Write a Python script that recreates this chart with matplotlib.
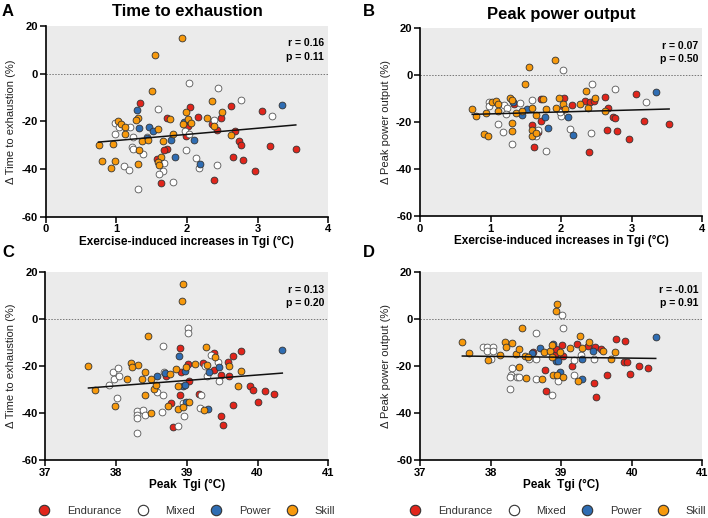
import numpy as np
import matplotlib
matplotlib.use("Agg")
import matplotlib.pyplot as plt
from matplotlib.lines import Line2D

plt.rcParams['font.family'] = ['Liberation Sans', 'DejaVu Sans']
plt.rcParams['axes.unicode_minus'] = False

groups = ["Endurance", "Mixed", "Power", "Skill"]
colors = {"Endurance": "#E1251B", "Mixed": "#FFFFFF", "Power": "#2F6DB3", "Skill": "#F7990C"}

# ---------------- Panel A: delta TTE vs exercise-induced increase in Tgi
A_end_x = [1.34, 2.04, 2.62, 3.06, 1.72, 2.16, 2.48, 2.35, 2.01, 2.42, 2.68, 1.99, 2.73, 2.76, 3.18, 3.54,
           1.72, 1.67, 1.58, 2.65, 2.79, 2.96, 1.63, 2.39]
A_end_y = [-12.1, -14.1, -13.4, -15.7, -18.4, -18.1, -18.6, -21.3, -21.9, -23.7, -23.9, -26.3, -28.4, -29.9,
           -30.5, -31.6, -31.6, -32.0, -35.6, -35.0, -36.4, -40.9, -45.7, -44.6]
A_mix_x = [2.03, 2.44, 2.76, 1.59, 3.20, 2.39, 0.99, 1.04, 1.20, 0.99, 1.24, 1.43, 1.97, 2.03, 1.22, 1.24,
           1.38, 1.99, 2.13, 2.17, 1.11, 1.18, 1.68, 1.66, 1.61, 2.43, 1.80, 1.31]
A_mix_y = [-3.8, -5.9, -11.2, -15.0, -17.9, -19.3, -20.8, -22.3, -22.3, -25.4, -26.5, -26.4, -24.0, -25.4,
           -30.8, -31.8, -33.5, -31.9, -35.3, -39.4, -38.8, -40.4, -37.6, -40.9, -41.9, -38.4, -45.5, -48.4]
A_pow_x = [1.30, 3.34, 1.32, 1.46, 1.52, 1.44, 1.78, 1.96, 2.10, 1.83, 2.18]
A_pow_y = [-15.2, -13.1, -22.7, -22.4, -24.1, -27.1, -28.0, -20.2, -27.7, -34.9, -38.0]
A_skl_x = [1.93, 1.55, 1.50, 2.36, 1.31, 1.28, 1.03, 1.07, 1.13, 1.12, 0.75, 0.95, 1.36, 1.45, 1.59, 1.66,
           1.80, 1.76, 1.99, 2.02, 2.06, 1.94, 2.28, 2.50, 2.39, 2.63, 1.32, 0.80, 0.99, 0.92, 1.31, 1.64,
           1.59, 1.61]
A_skl_y = [14.8, 7.8, -7.1, -11.6, -18.6, -19.5, -19.9, -21.2, -22.3, -25.4, -29.8, -29.5, -28.2, -28.0,
           -23.3, -28.1, -25.4, -19.1, -16.0, -19.1, -20.5, -21.3, -18.8, -16.2, -21.9, -25.6, -32.2, -36.7,
           -36.7, -39.7, -37.7, -35.0, -37.0, -38.4]

# ---------------- Panel B: delta PPO vs exercise-induced increase in Tgi
B_end_x = [3.06, 2.62, 2.04, 2.15, 2.34, 2.41, 2.47, 2.67, 2.74, 2.76, 3.17, 3.53, 2.79, 2.65, 2.96, 2.39,
           1.62, 1.58, 1.72, 1.67, 1.72, 1.33, 2.01]
B_end_y = [-8.2, -9.2, -9.9, -12.6, -11.1, -11.5, -10.8, -14.1, -18.0, -18.2, -19.6, -20.7, -23.7, -23.3,
           -27.1, -32.8, -30.5, -21.4, -19.6, -24.0, -10.1, -12.1, -14.9]
B_mix_x = [2.02, 2.44, 2.76, 3.20, 0.98, 0.98, 1.19, 1.23, 1.22, 1.42, 1.58, 1.10, 1.17, 1.30, 1.67, 1.65,
           1.79, 2.00, 1.98, 2.13, 2.42]
B_mix_y = [2.1, -3.7, -5.8, -11.4, -11.4, -13.2, -12.9, -14.1, -16.6, -11.8, -10.7, -20.7, -24.1, -29.4,
           -23.3, -25.7, -32.1, -17.3, -15.6, -23.0, -24.7]
B_pow_x = [3.34, 1.32, 1.51, 1.45, 1.77, 1.82, 2.10, 2.17]
B_pow_y = [-7.2, -11.6, -14.2, -17.0, -17.9, -22.3, -17.6, -25.3]
B_skl_x = [1.91, 1.54, 1.49, 2.35, 0.74, 0.79, 1.02, 1.07, 1.11, 1.11, 0.94, 1.28, 1.30, 1.36, 1.44, 1.31,
           1.30, 0.91, 0.97, 1.58, 1.74, 1.79, 1.65, 1.58, 1.59, 1.64, 1.97, 1.93, 2.02, 2.05, 2.27, 2.38,
           2.48, 2.62]
B_skl_y = [6.7, 3.6, -3.7, -6.8, -14.3, -17.3, -11.4, -10.9, -12.4, -15.2, -16.1, -9.7, -10.4, -16.1, -15.2,
           -20.3, -23.6, -25.0, -25.7, -14.1, -10.1, -14.6, -16.9, -23.4, -25.9, -24.6, -9.7, -13.8, -12.4,
           -14.2, -12.4, -13.8, -9.5, -15.2]

# ---------------- Panel C: delta TTE vs peak Tgi
C_end_x = [38.90, 39.38, 39.77, 39.65, 39.58, 39.23, 39.02, 39.39, 39.48, 39.60, 38.71, 38.92, 39.03, 38.90,
           39.17, 39.89, 39.94, 40.11, 40.23, 40.00, 39.66, 38.78, 39.48, 39.51, 38.80]
C_end_y = [-12.2, -14.2, -13.4, -15.6, -18.1, -18.5, -18.9, -21.6, -23.9, -24.2, -24.0, -22.5, -26.3, -32.3,
           -31.9, -28.4, -30.0, -30.6, -31.7, -35.1, -36.7, -35.8, -41.3, -44.9, -45.9]
C_mix_x = [39.01, 39.02, 38.66, 39.34, 39.26, 39.44, 37.95, 38.03, 37.97, 38.04, 37.90, 38.68, 39.28, 39.46,
           38.02, 38.58, 38.66, 39.20, 39.18, 38.94, 38.30, 38.38, 38.30, 38.30, 38.41, 38.65, 38.96, 38.88,
           38.30]
C_mix_y = [-3.8, -6.0, -11.4, -15.2, -19.9, -18.2, -22.5, -20.9, -25.5, -24.2, -28.2, -22.5, -24.2, -26.2,
           -33.6, -31.0, -32.4, -32.3, -37.8, -35.8, -39.0, -38.7, -40.7, -42.1, -40.7, -39.5, -41.1, -45.7,
           -48.6]
C_pow_x = [40.35, 38.89, 38.69, 38.58, 38.98, 39.45, 39.31, 38.94, 38.97, 39.30, 38.99]
C_pow_y = [-13.2, -15.5, -22.9, -24.3, -22.2, -20.5, -22.6, -28.3, -27.9, -38.1, -35.4]
C_skl_x = [38.95, 38.93, 38.45, 39.27, 37.61, 37.70, 38.21, 38.31, 38.23, 38.41, 38.15, 38.36, 38.49, 38.53,
           38.56, 38.41, 37.98, 38.50, 38.76, 38.85, 38.87, 38.99, 39.12, 39.29, 39.40, 39.59, 39.77, 39.72,
           38.74, 38.88, 38.95, 39.03, 39.24]
C_skl_y = [15.1, 7.8, -7.1, -11.8, -19.8, -30.0, -18.5, -19.3, -20.2, -22.5, -25.6, -25.6, -25.5, -29.6,
           -28.0, -32.4, -36.8, -40.0, -23.5, -21.3, -28.4, -20.5, -18.9, -19.3, -16.2, -19.8, -22.0, -28.3,
           -37.0, -38.1, -37.4, -35.4, -38.8]

# ---------------- Panel D: delta PPO vs peak Tgi
D_end_x = [38.77, 38.79, 38.91, 38.92, 39.01, 39.03, 39.15, 39.22, 39.38, 39.48, 39.57, 39.78, 39.90, 39.47,
           39.50, 39.65, 39.89, 39.94, 40.10, 39.98, 40.23, 38.60]
D_end_y = [-21.6, -30.5, -15.0, -12.8, -10.8, -15.6, -19.7, -10.5, -11.3, -11.6, -12.8, -8.4, -9.2, -27.1,
           -32.9, -23.8, -18.3, -18.3, -19.7, -23.4, -20.6, -13.8]
D_mix_x = [39.01, 39.02, 38.65, 37.89, 37.95, 38.03, 37.95, 38.04, 38.00, 38.30, 38.29, 38.27, 38.28, 38.37,
           38.40, 38.55, 38.65, 38.64, 38.87, 38.96, 39.18, 39.18, 39.28, 39.46]
D_mix_y = [2.0, -3.7, -6.0, -11.9, -11.9, -11.9, -13.5, -13.3, -16.7, -20.9, -23.7, -24.5, -29.5, -24.7,
           -24.4, -16.7, -17.0, -25.4, -32.3, -26.1, -17.3, -23.5, -15.2, -17.0]
D_pow_x = [40.34, 38.70, 38.88, 38.59, 38.92, 38.96, 38.99, 39.30, 39.45, 39.30]
D_pow_y = [-7.4, -12.1, -10.5, -14.3, -17.9, -17.6, -22.4, -16.9, -13.3, -25.4]
D_skl_x = [38.94, 38.92, 38.45, 39.27, 37.60, 37.69, 37.97, 38.14, 38.20, 38.22, 38.30, 38.36, 38.40, 38.40,
           38.49, 38.53, 38.50, 38.73, 38.76, 38.84, 38.87, 38.87, 38.88, 38.94, 38.99, 39.02, 39.12, 39.24,
           39.29, 39.39, 39.59, 39.71, 39.76]
D_skl_y = [6.7, 3.5, -3.8, -7.0, -9.8, -14.3, -17.3, -15.2, -9.6, -11.8, -10.1, -14.8, -12.5, -20.3, -15.5,
           -16.0, -25.1, -25.5, -13.9, -13.5, -11.1, -15.9, -23.8, -23.8, -14.0, -24.7, -12.3, -26.2, -12.3,
           -9.5, -13.6, -16.7, -13.9]

titles = ["Time to exhaustion", "Peak power output"]
ylabels = ["\u0394 Time to exhaustion (%)", "\u0394 Peak power output (%)"]
xlabels = ["Exercise-induced increases in Tgi (\u00b0C)", "Peak  Tgi (\u00b0C)"]
stats_text = ["r = 0.16\np = 0.11", "r = 0.07\np = 0.50", "r = 0.13\np = 0.20", "r = -0.01\np = 0.91"]
xticks_top = [0, 1, 2, 3, 4]
xticks_bottom = [37, 38, 39, 40, 41]
yticks = [20, 0, -20, -40, -60]

panels = {
    "A": [(A_end_x, A_end_y), (A_mix_x, A_mix_y), (A_pow_x, A_pow_y), (A_skl_x, A_skl_y)],
    "B": [(B_end_x, B_end_y), (B_mix_x, B_mix_y), (B_pow_x, B_pow_y), (B_skl_x, B_skl_y)],
    "C": [(C_end_x, C_end_y), (C_mix_x, C_mix_y), (C_pow_x, C_pow_y), (C_skl_x, C_skl_y)],
    "D": [(D_end_x, D_end_y), (D_mix_x, D_mix_y), (D_pow_x, D_pow_y), (D_skl_x, D_skl_y)],
}

fig = plt.figure(figsize=(7.08, 5.18), dpi=100)
W, H = 708, 518
boxes = {
    "A": (45.5, 26.0, 328.3, 216.7),
    "B": (420.0, 28.3, 702.3, 216.0),
    "C": (45.3, 272.4, 328.3, 460.0),
    "D": (420.0, 272.3, 702.3, 460.3),
}
letter_pos = {"A": (2, 16), "B": (363, 16), "C": (2, 257), "D": (363, 257)}

for idx, key in enumerate(["A", "B", "C", "D"]):
    x0, y0, x1, y1 = boxes[key]
    ax = fig.add_axes([x0 / W, 1 - y1 / H, (x1 - x0) / W, (y1 - y0) / H])
    ax.set_facecolor("#EBEBEB")
    top = idx < 2
    col = idx % 2
    xt = xticks_top if top else xticks_bottom
    ax.set_xlim(xt[0], xt[-1])
    ax.set_ylim(-60, 20)
    ax.axhline(0, color="#777777", lw=0.7, ls=(0, (1.5, 1.5)), zorder=1)
    allx, ally = [], []
    for g, (xs, ys) in zip(groups, panels[key]):
        ec = "#555555" if g == "Mixed" else "#333333"
        ax.scatter(xs, ys, s=24, c=colors[g], edgecolors=ec, linewidths=0.6, zorder=3)
        allx += xs
        ally += ys
    allx = np.array(allx)
    ally = np.array(ally)
    slope, icpt = np.polyfit(allx, ally, 1)
    lx = np.array([allx.min(), allx.max()])
    ax.plot(lx, slope * lx + icpt, color="#111111", lw=1.1, zorder=4)
    ax.set_xticks(xt)
    ax.set_yticks(yticks)
    for s in ["top", "right"]:
        ax.spines[s].set_visible(False)
    for s in ["left", "bottom"]:
        ax.spines[s].set_linewidth(1.2)
    ax.tick_params(direction="out", length=4, width=1.1, labelsize=8, pad=1.5)
    for lab in ax.get_xticklabels() + ax.get_yticklabels():
        lab.set_fontweight("bold")
    ax.set_xlabel(xlabels[0] if top else xlabels[1], fontsize=8.5, fontweight="bold", labelpad=1)
    ax.set_ylabel(ylabels[col], fontsize=8, labelpad=4, color="#222222")
    ax.text(0.985, 0.935, stats_text[idx], transform=ax.transAxes, ha="right", va="top",
            fontsize=7.5, fontweight="bold", linespacing=1.4)
    if top:
        ax.set_title(titles[col], fontsize=12, fontweight="bold", pad=7)
    lx0, ly0 = letter_pos[key]
    fig.text(lx0 / W, 1 - ly0 / H, key, fontsize=12, fontweight="bold", ha="left", va="baseline")

handles = [Line2D([], [], ls="", marker="o", markersize=7.5, markerfacecolor=colors[g],
                  markeredgecolor="#333333", markeredgewidth=0.8) for g in groups]
for cx in [187 / W, 558 / W]:
    fig.legend(handles, groups, loc="center", bbox_to_anchor=(cx, 1 - 511 / H), ncol=4, frameon=False,
               fontsize=8, handlelength=1.0, handletextpad=1.55, columnspacing=1.4,
               labelcolor="#333333", borderpad=0.1)

fig.savefig("out.png", dpi=100)
